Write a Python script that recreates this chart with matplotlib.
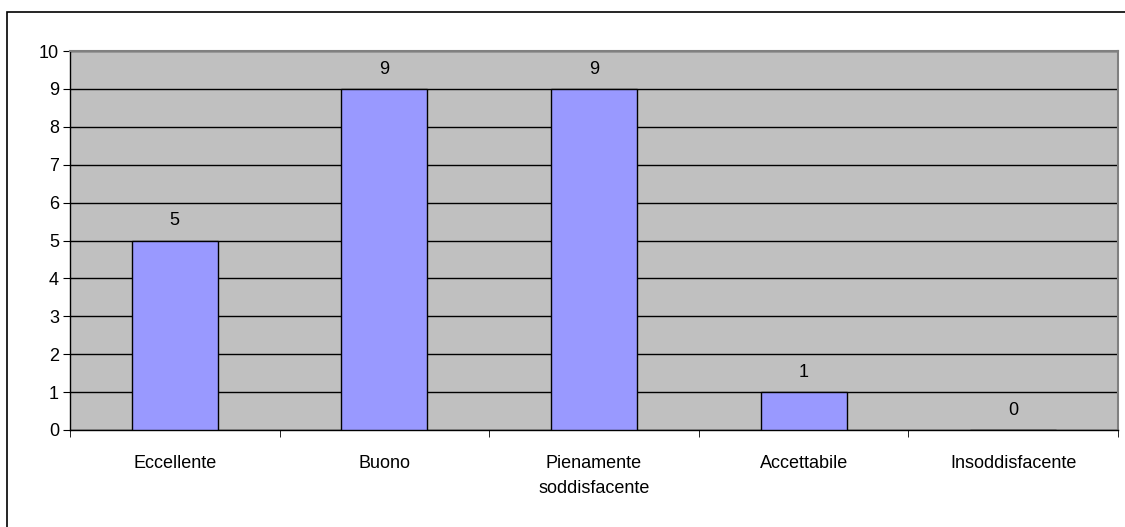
import matplotlib.pyplot as plt
from matplotlib.patches import Rectangle

categories = ['Eccellente', 'Buono', 'Pienamente\nsoddisfacente', 'Accettabile', 'Insoddisfacente']
values = [5, 9, 9, 1, 0]

plt.rcParams['font.family'] = ['Liberation Sans', 'DejaVu Sans']

fig = plt.figure(figsize=(11.25, 5.27), dpi=100)

# outer chart border (runs off the right and bottom edges)
fig.patches.append(Rectangle((7 / 1125, -0.1), 1.2, 1 - 12 / 527 + 0.1,
                             transform=fig.transFigure, fill=False,
                             edgecolor='black', linewidth=1.2))

ax = fig.add_axes([70 / 1125, 97 / 527, 1048 / 1125, 379 / 527])
ax.set_facecolor('#C0C0C0')

x = list(range(len(categories)))
ax.bar(x, values, width=0.41, color='#9999FF', edgecolor='black', linewidth=1, zorder=3)

for xi, v in zip(x, values):
    ax.text(xi, v + 0.3, str(v), ha='center', va='bottom', fontsize=13, zorder=4)

ax.set_xlim(-0.5, len(categories) - 0.5)
ax.set_ylim(0, 10)
ax.set_yticks(range(0, 11))
ax.tick_params(axis='y', direction='out', length=5, labelsize=13, pad=3)
ax.yaxis.grid(True, color='black', linewidth=1, zorder=1)
ax.set_axisbelow(True)

ax.set_xticks(x)
ax.set_xticklabels(categories, fontsize=13, linespacing=1.6)
ax.tick_params(axis='x', length=0, pad=18)
ax.set_xticks([i + 0.5 for i in range(-1, len(categories))], minor=True)
ax.tick_params(axis='x', which='minor', direction='out', length=5)

for side in ['top', 'right']:
    ax.spines[side].set_color('#808080')
    ax.spines[side].set_linewidth(1.5)
for side in ['left', 'bottom']:
    ax.spines[side].set_color('black')
    ax.spines[side].set_linewidth(1)

fig.savefig('out.png', dpi=100)
